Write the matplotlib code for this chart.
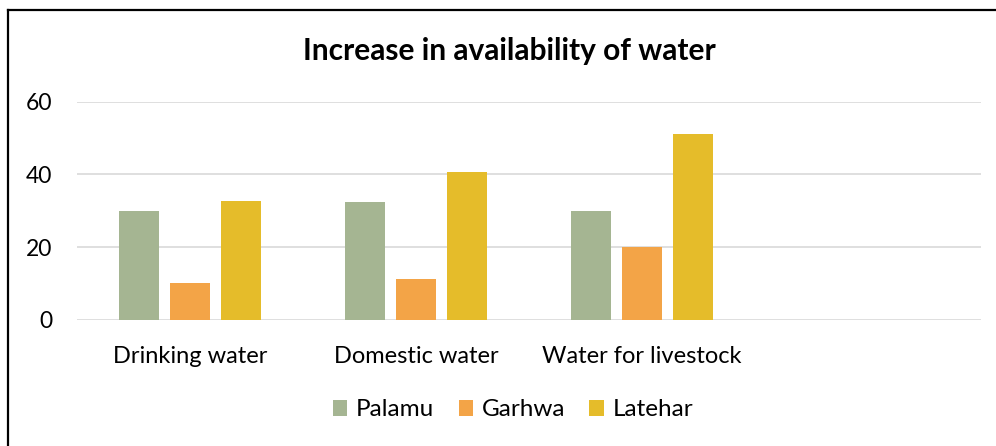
import numpy as np
import matplotlib.pyplot as plt
from matplotlib.lines import Line2D

# ------------------------------------
# Data
# ------------------------------------
categories = ["Drinking water", "Domestic water", "Water for livestock", ""]
palamu = [30, 32.5, 30]
garhwa = [10, 11.3, 20]
latehar = [32.7, 40.7, 51.2]

series_names = ["Palamu", "Garhwa", "Latehar"]
colors = ["#A5B592", "#F3A447", "#E5BC2A"]

plt.rcParams['font.family'] = ['Lato', 'DejaVu Sans']

fig = plt.figure(figsize=(9.96, 4.46), dpi=100)
ax = fig.add_axes([77 / 996, 1 - 319.7 / 446, (981 - 77) / 996, (319.7 - 101.7) / 446])

x = np.arange(3)
step = 0.2235
width = 0.177
for k, (vals, name, c) in enumerate(zip([palamu, garhwa, latehar], series_names, colors)):
    ax.bar(x + (k - 1) * step, vals, width, color=c, label=name, zorder=3)

ax.set_xlim(-0.5, 3.5)
ax.set_ylim(0, 60)
ax.set_yticks([0, 20, 40, 60])
ax.set_xticks(np.arange(4))
ax.set_xticklabels(categories)
ax.tick_params(axis='both', length=0, colors='black')
ax.tick_params(axis='y', pad=18, labelsize=16.5)
ax.tick_params(axis='x', pad=19, labelsize=17)
ax.grid(axis='y', color='#D9D9D9', linewidth=1.2, zorder=0)
for s in ax.spines.values():
    s.set_visible(False)

fig.text(509 / 996, 1 - 51 / 446, "Increase in availability of water", ha='center', va='center',
         fontsize=21.5, fontweight='bold')

fig.legend(loc='center', bbox_to_anchor=(513 / 996, 1 - 410 / 446), ncol=3, frameon=False,
           fontsize=17.5, handlelength=0.6, handleheight=0.6, handletextpad=0.35,
           columnspacing=1.0)

# frame lines (top and left only)
fig.add_artist(Line2D([8 / 996, 1], [1 - 9.5 / 446, 1 - 9.5 / 446], color='black', linewidth=1.6))
fig.add_artist(Line2D([8 / 996, 8 / 996], [0, 1 - 9.5 / 446], color='black', linewidth=1.6))

fig.savefig("out.png", dpi=100)
